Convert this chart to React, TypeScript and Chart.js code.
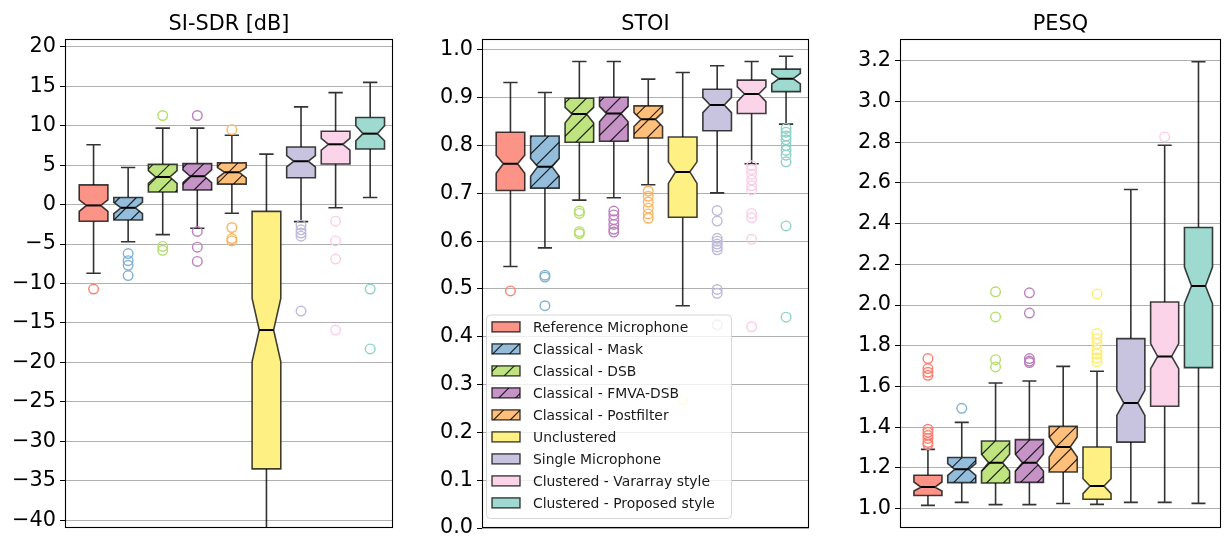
import React, { useEffect, useRef } from "react";
import { Chart, registerables } from "chart.js";

Chart.register(...registerables);

// ---------------- data ----------------
const METHODS = [
  "Reference Microphone",
  "Classical - Mask",
  "Classical - DSB",
  "Classical - FMVA-DSB",
  "Classical - Postfilter",
  "Unclustered",
  "Single Microphone",
  "Clustered - Vararray style",
  "Clustered - Proposed style",
];
const POSITIONS = [0, 1, 2, 3, 4, 5, 6, 7, 8];
const COLORS_RGB = [
  [251, 128, 114],
  [128, 177, 211],
  [179, 222, 105],
  [188, 128, 189],
  [253, 180, 98],
  [255, 237, 111],
  [190, 186, 218],
  [252, 205, 229],
  [141, 211, 199],
];
const HATCHED = [false, true, true, true, true, false, false, false, false];

// SI-SDR [dB]
const SDR_WHI = [7.6, 4.7, 9.7, 9.7, 8.8, 6.4, 12.4, 14.2, 15.5];
const SDR_Q3 = [2.5, 0.9, 5.1, 5.2, 5.3, -0.85, 7.3, 9.3, 11.05];
const SDR_NHI = [0.6, 0.3, 4.3, 4.4, 4.7, -11.9, 6.2, 8.4, 10.0];
const SDR_MED = [-0.1, -0.4, 3.5, 3.6, 4.1, -15.9, 5.5, 7.65, 9.0];
const SDR_NLO = [-0.85, -1.15, 2.7, 2.8, 3.4, -19.9, 4.8, 6.9, 8.1];
const SDR_Q1 = [-2.1, -1.95, 1.6, 1.85, 2.6, -33.5, 3.4, 5.15, 7.05];
const SDR_WLO = [-8.7, -4.7, -3.8, -3.0, -1.1, -46, -2.15, -0.4, 0.9];
const SDR_OUT = [
  [-10.7],
  [-6.2, -7.1, -7.7, -9.0],
  [11.3, -5.3, -5.8],
  [11.3, -3.4, -5.4, -7.2],
  [9.5, -2.9, -4.3, -4.6],
  [],
  [-2.6, -3.2, -3.6, -4.0, -13.5],
  [-2.1, -4.6, -6.9, -15.9],
  [-10.7, -18.3],
];
const SDR_TICKS = [20, 15, 10, 5, 0, -5, -10, -15, -20, -25, -30, -35, -40];
const SDR_TICK_LABELS = ["20", "15", "10", "5", "0", "\u22125", "\u221210", "\u221215", "\u221220", "\u221225", "\u221230", "\u221235", "\u221240"];

// STOI
const STOI_WHI = [0.932, 0.911, 0.976, 0.976, 0.939, 0.953, 0.967, 0.976, 0.987];
const STOI_Q3 = [0.828, 0.82, 0.899, 0.901, 0.883, 0.818, 0.918, 0.937, 0.96];
const STOI_NHI = [0.78, 0.773, 0.88, 0.882, 0.869, 0.766, 0.901, 0.923, 0.951];
const STOI_MED = [0.762, 0.756, 0.866, 0.867, 0.855, 0.745, 0.885, 0.908, 0.94];
const STOI_NLO = [0.742, 0.736, 0.847, 0.85, 0.84, 0.721, 0.869, 0.892, 0.929];
const STOI_Q1 = [0.706, 0.711, 0.807, 0.809, 0.816, 0.65, 0.831, 0.867, 0.913];
const STOI_WLO = [0.547, 0.586, 0.686, 0.691, 0.718, 0.465, 0.701, 0.762, 0.845];
const STOI_OUT = [
  [0.496],
  [0.529, 0.525, 0.465],
  [0.663, 0.658, 0.62, 0.616],
  [0.663, 0.655, 0.645, 0.635, 0.625, 0.619],
  [0.705, 0.694, 0.682, 0.669, 0.657, 0.648],
  [0.268],
  [0.664, 0.642, 0.606, 0.6, 0.594, 0.588, 0.582, 0.499, 0.491, 0.425],
  [0.758, 0.75, 0.74, 0.728, 0.716, 0.707, 0.658, 0.649, 0.604, 0.421],
  [0.836, 0.828, 0.82, 0.812, 0.8, 0.79, 0.78, 0.766, 0.632, 0.441],
];
const STOI_TICKS = [1.0, 0.9, 0.8, 0.7, 0.6, 0.5, 0.4, 0.3, 0.2, 0.1, 0.0];
const STOI_TICK_LABELS = ["1.0", "0.9", "0.8", "0.7", "0.6", "0.5", "0.4", "0.3", "0.2", "0.1", "0.0"];

// PESQ
const PESQ_WHI = [1.291, 1.424, 1.617, 1.627, 1.699, 1.675, 2.568, 2.785, 3.195];
const PESQ_Q3 = [1.164, 1.251, 1.332, 1.339, 1.404, 1.303, 1.835, 2.015, 2.381];
const PESQ_NHI = [1.131, 1.221, 1.267, 1.267, 1.352, 1.147, 1.581, 1.811, 2.187];
const PESQ_MED = [1.106, 1.193, 1.226, 1.226, 1.303, 1.111, 1.519, 1.748, 2.094];
const PESQ_NLO = [1.087, 1.164, 1.185, 1.185, 1.254, 1.074, 1.458, 1.688, 2.007];
const PESQ_Q1 = [1.065, 1.128, 1.126, 1.129, 1.18, 1.046, 1.327, 1.503, 1.693];
const PESQ_WLO = [1.016, 1.031, 1.02, 1.02, 1.025, 1.021, 1.031, 1.031, 1.026];
const PESQ_OUT = [
  [1.737, 1.688, 1.67, 1.655, 1.39, 1.375, 1.36, 1.345, 1.325, 1.315],
  [1.493],
  [2.065, 1.942, 1.732, 1.696],
  [2.06, 1.961, 1.737, 1.725, 1.718],
  [],
  [2.055, 1.86, 1.835, 1.81, 1.78, 1.76, 1.74, 1.722],
  [],
  [2.826],
  [],
];
const PESQ_TICKS = [3.2, 3.0, 2.8, 2.6, 2.4, 2.2, 2.0, 1.8, 1.6, 1.4, 1.2, 1.0];
const PESQ_TICK_LABELS = ["3.2", "3.0", "2.8", "2.6", "2.4", "2.2", "2.0", "1.8", "1.6", "1.4", "1.2", "1.0"];

// ---------------- style ----------------
const FONT = "'DejaVu Sans', 'Liberation Sans', sans-serif";
const TICK_FONT_SIZE = 20.8;
const LEGEND_FONT_SIZE = 13.9;
const BOX_WIDTH = 0.83;
const HATCH_SPACING = 16.7;
const FILL_ALPHA = 0.85;
const EDGE = "rgba(0,0,0,0.75)";
const WHISK = "rgba(0,0,0,0.8)";

type Panel = {
  title: string;
  whi: number[]; q3: number[]; nhi: number[]; med: number[]; nlo: number[]; q1: number[]; wlo: number[];
  out: number[][];
  yMin: number; yMax: number;
  ticks: number[]; tickLabels: string[];
  legend: boolean;
  left: number; width: number; axisW: number; padR: number;
};

const PANELS: Panel[] = [
  {
    title: "SI-SDR [dB]", whi: SDR_WHI, q3: SDR_Q3, nhi: SDR_NHI, med: SDR_MED, nlo: SDR_NLO, q1: SDR_Q1, wlo: SDR_WLO,
    out: SDR_OUT, yMin: -41.0, yMax: 21.0, ticks: SDR_TICKS, tickLabels: SDR_TICK_LABELS, legend: false,
    left: 0, width: 400, axisW: 65, padR: 7,
  },
  {
    title: "STOI", whi: STOI_WHI, q3: STOI_Q3, nhi: STOI_NHI, med: STOI_MED, nlo: STOI_NLO, q1: STOI_Q1, wlo: STOI_WLO,
    out: STOI_OUT, yMin: 0, yMax: 1.023, ticks: STOI_TICKS, tickLabels: STOI_TICK_LABELS, legend: true,
    left: 410, width: 405, axisW: 72, padR: 6,
  },
  {
    title: "PESQ", whi: PESQ_WHI, q3: PESQ_Q3, nhi: PESQ_NHI, med: PESQ_MED, nlo: PESQ_NLO, q1: PESQ_Q1, wlo: PESQ_WLO,
    out: PESQ_OUT, yMin: 0.905, yMax: 3.307, ticks: PESQ_TICKS, tickLabels: PESQ_TICK_LABELS, legend: false,
    left: 825, width: 402, axisW: 75, padR: 1,
  },
];

const rgba = (c: number[], a: number) => `rgba(${c[0]},${c[1]},${c[2]},${a})`;

function drawHatch(ctx: CanvasRenderingContext2D, x0: number, y0: number, x1: number, y1: number, off: number) {
  ctx.save();
  ctx.strokeStyle = "rgba(0,0,0,0.82)";
  ctx.lineWidth = 1.2;
  ctx.beginPath();
  const s = HATCH_SPACING;
  const start = Math.floor((x0 + y0 + off) / s) * s - off;
  for (let c = start; c <= x1 + y1 + s; c += s) {
    ctx.moveTo(c - y1, y1);
    ctx.lineTo(c - y0, y0);
  }
  ctx.stroke();
  ctx.restore();
}

function makePlugin(p: Panel) {
  return {
    id: "boxes",
    beforeDatasetsDraw(chart: any) {
      const ctx: CanvasRenderingContext2D = chart.ctx;
      const xs = chart.scales.x;
      const ys = chart.scales.y;
      const area = chart.chartArea;
      ctx.save();
      ctx.beginPath();
      ctx.rect(area.left, area.top, area.right - area.left, area.bottom - area.top);
      ctx.clip();
      for (let i = 0; i < POSITIONS.length; i++) {
        const xc = xs.getPixelForValue(POSITIONS[i]);
        const half = (xs.getPixelForValue(POSITIONS[i] + BOX_WIDTH / 2) - xs.getPixelForValue(POSITIONS[i] - BOX_WIDTH / 2)) / 2;
        const yWhi = ys.getPixelForValue(p.whi[i]);
        const yQ3 = ys.getPixelForValue(p.q3[i]);
        const yNhi = ys.getPixelForValue(p.nhi[i]);
        const yMed = ys.getPixelForValue(p.med[i]);
        const yNlo = ys.getPixelForValue(p.nlo[i]);
        const yQ1 = ys.getPixelForValue(p.q1[i]);
        const yWlo = ys.getPixelForValue(p.wlo[i]);

        // whiskers + caps
        ctx.strokeStyle = WHISK;
        ctx.lineWidth = 1.6;
        ctx.beginPath();
        ctx.moveTo(xc, yQ3); ctx.lineTo(xc, yWhi);
        ctx.moveTo(xc, yQ1); ctx.lineTo(xc, yWlo);
        ctx.moveTo(xc - half / 2, yWhi); ctx.lineTo(xc + half / 2, yWhi);
        ctx.moveTo(xc - half / 2, yWlo); ctx.lineTo(xc + half / 2, yWlo);
        ctx.stroke();

        // notched box
        const path = () => {
          ctx.beginPath();
          ctx.moveTo(xc - half, yQ1);
          ctx.lineTo(xc - half, yNlo);
          ctx.lineTo(xc - half / 2, yMed);
          ctx.lineTo(xc - half, yNhi);
          ctx.lineTo(xc - half, yQ3);
          ctx.lineTo(xc + half, yQ3);
          ctx.lineTo(xc + half, yNhi);
          ctx.lineTo(xc + half / 2, yMed);
          ctx.lineTo(xc + half, yNlo);
          ctx.lineTo(xc + half, yQ1);
          ctx.closePath();
        };
        path();
        ctx.fillStyle = "#ffffff";
        ctx.fill();
        ctx.fillStyle = rgba(COLORS_RGB[i], FILL_ALPHA);
        ctx.fill();
        if (HATCHED[i]) {
          ctx.save();
          path();
          ctx.clip();
          drawHatch(ctx, xc - half, yQ3, xc + half, yQ1, p.left);
          ctx.restore();
        }
        path();
        ctx.strokeStyle = EDGE;
        ctx.lineWidth = 1.6;
        ctx.lineJoin = "miter";
        ctx.stroke();

        // median
        ctx.strokeStyle = "#000";
        ctx.lineWidth = 2;
        ctx.beginPath();
        ctx.moveTo(xc - half / 2, yMed);
        ctx.lineTo(xc + half / 2, yMed);
        ctx.stroke();
      }
      ctx.restore();
    },
    afterDraw(chart: any) {
      const ctx: CanvasRenderingContext2D = chart.ctx;
      const area = chart.chartArea;
      ctx.save();
      // frame
      ctx.strokeStyle = "#000";
      ctx.lineWidth = 1.1;
      ctx.strokeRect(Math.round(area.left) + 0.5, Math.round(area.top) + 0.5, Math.round(area.right - area.left) - 1, Math.round(area.bottom - area.top) - 1);
      // title
      ctx.fillStyle = "#000";
      ctx.font = `${TICK_FONT_SIZE}px ${FONT}`;
      ctx.textAlign = "center";
      ctx.textBaseline = "alphabetic";
      ctx.fillText(p.title, (area.left + area.right) / 2, area.top - 9);

      if (p.legend) {
        const lx = area.left + 4;
        const lw = 245;
        const lh = 203.5;
        const ly = area.bottom - 10 - lh;
        ctx.beginPath();
        if ((ctx as any).roundRect) (ctx as any).roundRect(lx + 0.5, ly + 0.5, lw, lh, 4);
        else ctx.rect(lx + 0.5, ly + 0.5, lw, lh);
        ctx.fillStyle = "rgba(255,255,255,0.8)";
        ctx.fill();
        ctx.strokeStyle = "rgba(204,204,204,0.8)";
        ctx.lineWidth = 1;
        ctx.stroke();
        ctx.font = `${LEGEND_FONT_SIZE}px ${FONT}`;
        ctx.textAlign = "left";
        ctx.textBaseline = "middle";
        for (let i = 0; i < METHODS.length; i++) {
          const cy = ly + 12.4 + i * 22;
          const px = lx + 6;
          const pw = 28;
          const ph = 10;
          ctx.fillStyle = "#ffffff";
          ctx.fillRect(px, cy - ph / 2, pw, ph);
          ctx.fillStyle = rgba(COLORS_RGB[i], FILL_ALPHA);
          ctx.fillRect(px, cy - ph / 2, pw, ph);
          if (HATCHED[i]) {
            ctx.save();
            ctx.beginPath();
            ctx.rect(px, cy - ph / 2, pw, ph);
            ctx.clip();
            drawHatch(ctx, px, cy - ph / 2, px + pw, cy + ph / 2, p.left + 5);
            ctx.restore();
          }
          ctx.strokeStyle = EDGE;
          ctx.lineWidth = 1.4;
          ctx.strokeRect(px, cy - ph / 2, pw, ph);
          ctx.fillStyle = "#1a1a1a";
          ctx.fillText(METHODS[i], lx + 47, cy + 1);
        }
      }
      ctx.restore();
    },
  };
}

function PanelChart({ panel }: { panel: Panel }) {
  const ref = useRef<HTMLCanvasElement | null>(null);
  useEffect(() => {
    if (!ref.current) return;
    const p = panel;
    const chart = new Chart(ref.current, {
      type: "scatter",
      data: {
        datasets: METHODS.map((m, i) => ({
          label: m,
          data: p.out[i].map((v) => ({ x: POSITIONS[i], y: v })),
          pointStyle: "circle",
          pointRadius: 4.8,
          pointHoverRadius: 4.8,
          pointBorderWidth: 1.4,
          pointBorderColor: rgba(COLORS_RGB[i], 1),
          pointBackgroundColor: "rgba(0,0,0,0)",
          borderColor: rgba(COLORS_RGB[i], 1),
          backgroundColor: "rgba(0,0,0,0)",
        })),
      },
      options: {
        responsive: false,
        animation: false,
        events: [],
        layout: { padding: { left: 0, right: p.padR, top: 39, bottom: 10 } },
        plugins: {
          legend: { display: false },
          tooltip: { enabled: false },
          title: { display: false },
        },
        scales: {
          x: { type: "linear", display: false, min: -0.826, max: 8.66 },
          y: {
            type: "linear",
            min: p.yMin,
            max: p.yMax,
            bounds: "data",
            afterBuildTicks: (ax: any) => {
              ax.ticks = p.ticks.map((v) => ({ value: v }));
            },
            afterFit: (ax: any) => {
              ax.width = p.axisW;
              ax.paddingTop = 0;
              ax.paddingBottom = 0;
            },
            ticks: {
              autoSkip: false,
              padding: 4,
              color: "#000",
              font: { family: FONT, size: TICK_FONT_SIZE },
              callback: (_v: any, idx: number) => p.tickLabels[idx],
            },
            grid: {
              color: "#b0b0b0",
              lineWidth: 1,
              tickColor: "#000",
              tickLength: 5,
            },
            border: { display: false },
          },
        },
      } as any,
      plugins: [makePlugin(p)],
    });
    return () => chart.destroy();
  }, [panel]);
  return (
    <canvas
      ref={ref}
      width={panel.width}
      height={538}
      style={{ position: "absolute", left: panel.left, top: 0, width: panel.width, height: 538 }}
    />
  );
}

export default function App() {
  return (
    <div style={{ position: "absolute", left: 0, top: 0, width: 1227, height: 538, background: "#fff", overflow: "hidden" }}>
      {PANELS.map((p) => (
        <PanelChart key={p.title} panel={p} />
      ))}
    </div>
  );
}
